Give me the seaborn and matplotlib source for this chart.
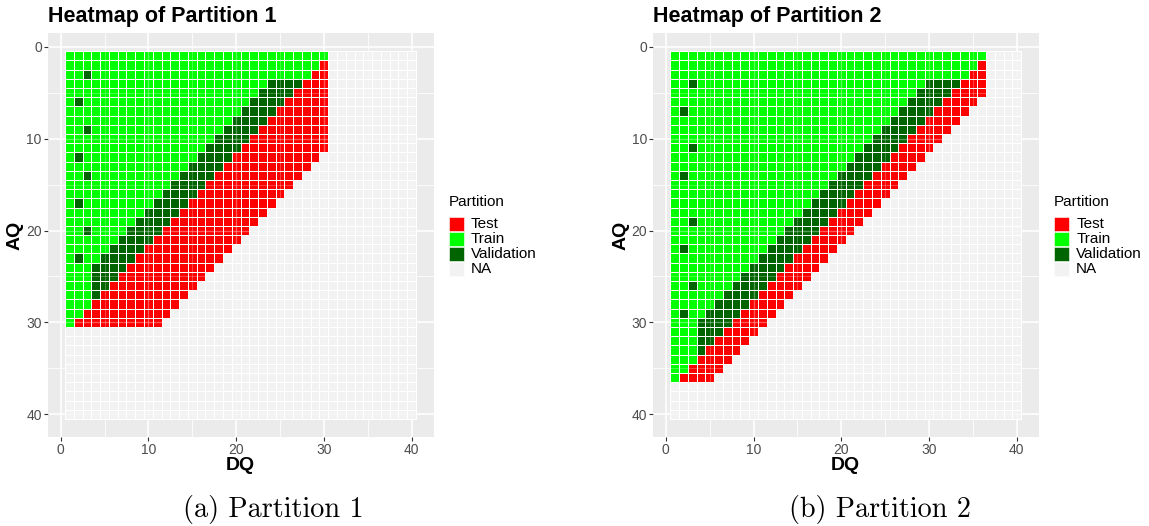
import numpy as np
import pandas as pd
import matplotlib
matplotlib.use("Agg")
import matplotlib.pyplot as plt
import seaborn as sns
from matplotlib.colors import ListedColormap
from matplotlib.patches import Rectangle

# ---- data -------------------------------------------------------------
PARTITIONS = ["Test", "Train", "Validation", "NA"]
COLORS = ["#FF0000", "#00FF00", "#006400", "#F2F2F2"]
GRID_N = 40                      # DQ and AQ both run 1..40
TICKS = [0, 10, 20, 30, 40]
MINOR_TICKS = [5, 15, 25, 35]

# One string per AQ row (AQ = 1, 2, ...), run-length coded along DQ = 1, 2, ...
# G = Train, V = Validation, T = Test; cells past the end of a row are NA.
P1_ROWS = [
    "G30",
    "G29 T1",
    "G2 V1 G25 T2",
    "G23 V4 T3",
    "G22 V4 T4",
    "G1 V1 G19 V4 T5",
    "G20 V4 T6",
    "G19 V4 T7",
    "G2 V1 G15 V4 T8",
    "G17 V4 T9",
    "G16 V4 T10",
    "G1 V1 G13 V4 T10",
    "G14 V4 T10",
    "G2 V1 G10 V4 T10",
    "G12 V4 T10",
    "G11 V4 T10",
    "G1 V1 G8 V4 T10",
    "G9 V4 T10",
    "G8 V4 T10",
    "G2 V1 G4 V4 T10",
    "G6 V4 T10",
    "G5 V4 T10",
    "G1 V1 G2 V4 T10",
    "G3 V4 T10",
    "G3 V3 T10",
    "G3 V2 T10",
    "G3 V1 T10",
    "G3 T10",
    "G2 T10",
    "G1 T10",
]

P2_ROWS = [
    "G36",
    "G35 T1",
    "G34 T2",
    "G2 V1 G26 V4 T3",
    "G28 V4 T4",
    "G27 V4 T4",
    "G1 V1 G24 V4 T4",
    "G25 V4 T4",
    "G24 V4 T4",
    "G23 V4 T4",
    "G2 V1 G19 V4 T4",
    "G21 V4 T4",
    "G20 V4 T4",
    "G1 V1 G17 V4 T4",
    "G18 V4 T4",
    "G17 V4 T4",
    "G16 V4 T4",
    "G15 V4 T4",
    "G2 V1 G11 V4 T4",
    "G13 V4 T4",
    "G12 V4 T4",
    "G1 V1 G9 V4 T4",
    "G10 V4 T4",
    "G9 V4 T4",
    "G8 V4 T4",
    "G2 V1 G4 V4 T4",
    "G6 V4 T4",
    "G5 V4 T4",
    "G1 V1 G2 V4 T4",
    "G3 V4 T4",
    "G3 V3 T4",
    "G3 V2 T4",
    "G3 V1 T4",
    "G3 T4",
    "G2 T4",
    "G1 T4",
]

CODE = {"T": 0, "G": 1, "V": 2}
NA_CODE = 3


def decode(rows, n=GRID_N):
    mat = np.full((n, n), NA_CODE, dtype=int)
    for i, row in enumerate(rows):
        j = 0
        for tok in row.split():
            k = int(tok[1:])
            mat[i, j:j + k] = CODE[tok[0]]
            j += k
    return pd.DataFrame(mat, index=np.arange(1, n + 1), columns=np.arange(1, n + 1))


# ---- figure -----------------------------------------------------------
W, H = 1149, 526
fig = plt.figure(figsize=(W / 100, H / 100), dpi=100)
fig.patch.set_facecolor("white")
plt.rcParams["font.family"] = ["Liberation Sans", "DejaVu Sans"]


def fx(px):
    return px / W


def fy(py):
    return 1 - py / H


cmap = ListedColormap(COLORS)


def draw_panel(left_px, rows, title, caption, caption_x):
    panel_w, panel_h = 386.0, 404.4
    top_px = 32.9
    ax = fig.add_axes([fx(left_px), fy(top_px + panel_h), panel_w / W, panel_h / H])
    ax.set_facecolor("#EBEBEB")

    df = decode(rows)
    sns.heatmap(df, ax=ax, cmap=cmap, vmin=-0.5, vmax=3.5, cbar=False,
                linewidths=0.6, linecolor="white",
                xticklabels=False, yticklabels=False)

    # cell for value v spans [v-1, v] in heatmap coordinates -> centre at v-0.5
    major = [t - 0.5 for t in TICKS]
    minor = [t - 0.5 for t in MINOR_TICKS]
    ax.set_xlim(-2.0, 42.0)
    ax.set_ylim(42.0, -2.0)
    ax.set_xticks(major)
    ax.set_xticklabels([str(t) for t in TICKS])
    ax.set_yticks(major)
    ax.set_yticklabels([str(t) for t in TICKS])
    ax.set_xticks(minor, minor=True)
    ax.set_yticks(minor, minor=True)
    ax.set_axisbelow(True)
    ax.grid(which="major", color="white", linewidth=1.1)
    ax.grid(which="minor", color="white", linewidth=0.55)
    # faint guide lines that show through the tiles
    for v in major:
        ax.axvline(v, color="white", lw=1.0, alpha=0.35, zorder=3)
        ax.axhline(v, color="white", lw=1.0, alpha=0.35, zorder=3)
    for v in minor:
        ax.axvline(v, color="white", lw=0.6, alpha=0.3, zorder=3)
        ax.axhline(v, color="white", lw=0.6, alpha=0.3, zorder=3)

    ax.tick_params(which="minor", length=0)
    ax.tick_params(which="major", length=2.6, width=0.8, color="#333333",
                   labelcolor="#4D4D4D", labelsize=10, pad=1.5)
    ax.set_xlabel("")
    ax.set_ylabel("")
    for s in ax.spines.values():
        s.set_visible(False)

    cx = left_px + panel_w / 2
    fig.text(fx(left_px + 0.5), fy(16.5), title, fontsize=15.5, fontweight="bold",
             ha="left", va="center")
    fig.text(fx(cx), fy(465), "DQ", fontsize=14, fontweight="bold",
             ha="center", va="center")
    fig.text(fx(left_px - 32), fy(top_px + panel_h / 2), "AQ", fontsize=14,
             fontweight="bold", rotation=90, ha="center", va="center")

    # legend
    lx = left_px + 401
    fig.text(fx(lx + 0.5), fy(201.7), "Partition", fontsize=11, ha="left", va="center")
    for i, (lab, col) in enumerate(zip(PARTITIONS, COLORS)):
        ky = 217.0 + i * 14.9
        fig.add_artist(Rectangle((fx(lx), fy(ky + 14.0)), 15 / W, 14.0 / H,
                                 transform=fig.transFigure, facecolor=col,
                                 edgecolor="white", linewidth=0.4))
        fig.text(fx(lx + 22.5), fy(ky + 7.3), lab, fontsize=11,
                 ha="left", va="center")

    fig.text(fx(caption_x), fy(510), caption, fontsize=20.3, family="cmr10",
             ha="center", va="center")
    return ax


draw_panel(47.5, P1_ROWS, "Heatmap of Partition 1", "(a) Partition 1", 273)
draw_panel(652.7, P2_ROWS, "Heatmap of Partition 2", "(b) Partition 2", 880)

fig.savefig("out.png", dpi=100, facecolor="white")
